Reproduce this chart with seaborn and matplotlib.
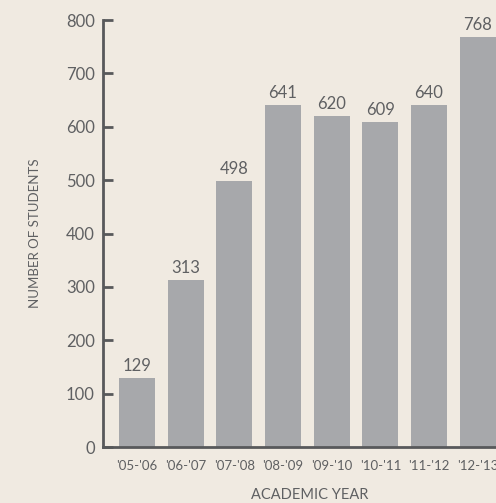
import matplotlib
matplotlib.use('Agg')
import matplotlib.pyplot as plt
import seaborn as sns
import pandas as pd

years = ["'05-'06", "'06-'07", "'07-'08", "'08-'09", "'09-'10", "'10-'11", "'11-'12", "'12-'13"]
students = [129, 313, 498, 641, 620, 609, 640, 768]
y_ticks = [0, 100, 200, 300, 400, 500, 600, 700, 800]

bg = '#f0eae1'
bar_color = '#a7a8ab'
text_color = '#5f6062'
axis_color = '#58595b'

sns.set_theme(style='white')
plt.rcParams['font.family'] = ['Lato', 'DejaVu Sans']

df = pd.DataFrame({'Year': years, 'Students': students})

fig = plt.figure(figsize=(4.96, 5.03), dpi=100, facecolor=bg)
# axes runs past the right edge, the last bar is cut like in the source
ax = fig.add_axes([103 / 496, 56 / 503, 399 / 496, 427 / 503])
ax.set_facecolor(bg)

sns.barplot(data=df, x='Year', y='Students', color=bar_color, width=0.74,
            saturation=1, linewidth=0, ax=ax)

for i, v in enumerate(students):
    ax.annotate(str(v), (i, v), xytext=(0, 3), textcoords='offset points',
                ha='center', va='bottom', fontsize=12, color=text_color)

ax.set_xlim(-0.7, 7.5)
ax.set_ylim(0, 800)
ax.set_yticks(y_ticks)
ax.set_yticklabels([str(t) for t in y_ticks])

for side in ['top', 'right']:
    ax.spines[side].set_visible(False)
for side in ['left', 'bottom']:
    ax.spines[side].set_color(axis_color)
    ax.spines[side].set_linewidth(2)

ax.tick_params(axis='y', direction='in', length=7, width=2, color=axis_color,
               labelsize=12, labelcolor=text_color, pad=6, left=True)
ax.tick_params(axis='x', length=0, labelsize=9.5, labelcolor=text_color, pad=9)

ax.set_xlabel('')
ax.set_ylabel('NUMBER OF STUDENTS', fontsize=9.5, color=text_color, labelpad=18)
fig.text(310 / 496, 8 / 503, 'ACADEMIC YEAR', ha='center', va='center',
         fontsize=10.5, color=text_color)

fig.savefig('out.png', dpi=100, facecolor=bg)
